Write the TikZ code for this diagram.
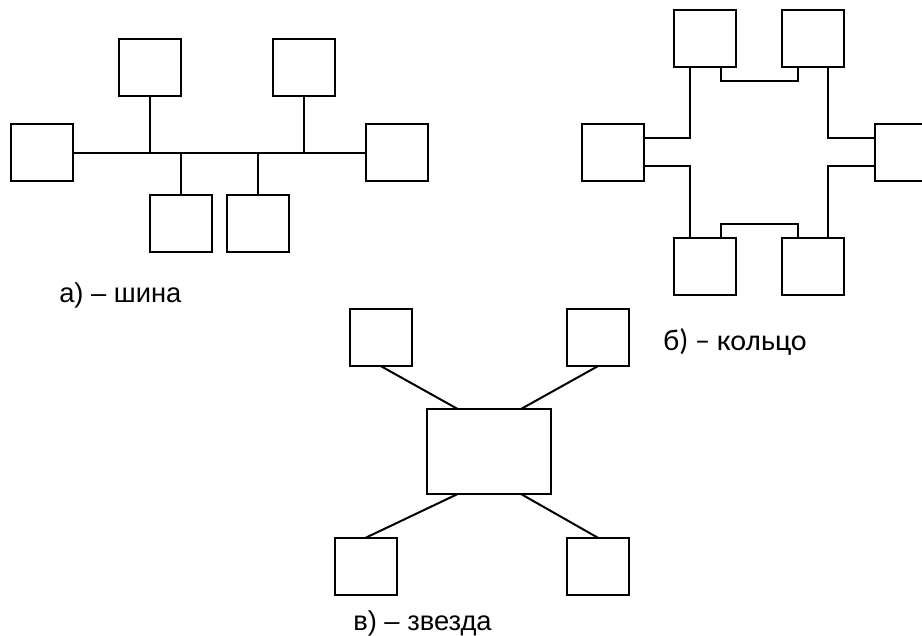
\documentclass[tikz,border=0pt]{standalone}
\usepackage{fontspec}
\setmainfont{Liberation Sans}
\newfontfamily\calfont{Carlito}
\begin{document}
\begin{tikzpicture}[x=0.75pt,y=-0.75pt,
  box/.style={draw,line width=1.5pt,minimum width=46.5pt,minimum height=42.75pt,inner sep=0pt,outer sep=0pt},
  bigbox/.style={draw,line width=1.5pt,minimum width=92.5pt,minimum height=63.75pt,inner sep=0pt,outer sep=0pt},
  wire/.style={line width=1.5pt},
  lbl/.style={anchor=base west,inner sep=0pt,font=\fontsize{20.5}{24}\selectfont}]
\useasboundingbox (0,0) rectangle (922,636);
% ---- a) bus
\node[box] (bl)  at (42,152.5) {};
\node[box] (bt1) at (150,67) {};
\node[box] (bt2) at (304,67) {};
\node[box] (br)  at (397,152.5) {};
\node[box] (bb1) at (181,223.5) {};
\node[box] (bb2) at (258,223.5) {};
\draw[wire] (bl.east) -- (br.west);
\draw[wire] (bt1.south) -- (bt1.south |- bl.east);
\draw[wire] (bt2.south) -- (bt2.south |- bl.east);
\draw[wire] (bb1.north) -- (bb1.north |- bl.east);
\draw[wire] (bb2.north) -- (bb2.north |- bl.east);
\node[lbl] (la) at (59,302.7) {а) – шина};
% ---- b) ring
\node[box] (rtl) at (705,38.3) {};
\node[box] (rtr) at (813.3,38.3) {};
\node[box] (rl)  at (612.5,152.5) {};
\node[box] (rr)  at (905.5,152.5) {};
\node[box] (rbl) at (705,266.7) {};
\node[box] (rbr) at (813.3,266.7) {};
\draw[wire] (rtl.south -| 690,0) |- (rl.east |- 0,137.7);
\draw[wire] (rl.east |- 0,166.3) -| (rbl.north -| 690,0);
\draw[wire] (rtl.south -| 720.7,0) |- (797.7,81) -- (rtr.south -| 797.7,0);
\draw[wire] (rtr.south -| 828.3,0) |- (rr.west |- 0,137.7);
\draw[wire] (rr.west |- 0,166.3) -| (rbr.north -| 828.3,0);
\draw[wire] (rbl.north -| 720.7,0) |- (797.7,224) -- (rbr.north -| 797.7,0);
\node[lbl,font=\calfont\fontsize{22.5}{26}\selectfont] (lb) at (663,350) {б) – кольцо};
% ---- c) star
\node[bigbox] (sc) at (489,451.5) {};
\node[box] (stl) at (381,337.7) {};
\node[box] (str) at (597.8,337.7) {};
\node[box] (sbl) at (365.8,566.2) {};
\node[box] (sbr) at (597.8,566.2) {};
\draw[wire] (stl.south) -- (sc.north -| 457.7,0);
\draw[wire] (str.south) -- (sc.north -| 521,0);
\draw[wire] (sc.south -| 457.7,0) -- (sbl.north);
\draw[wire] (sc.south -| 521,0) -- (sbr.north);
\node[lbl] (lc) at (353,630) {в) – звезда};
\end{tikzpicture}
\end{document}
